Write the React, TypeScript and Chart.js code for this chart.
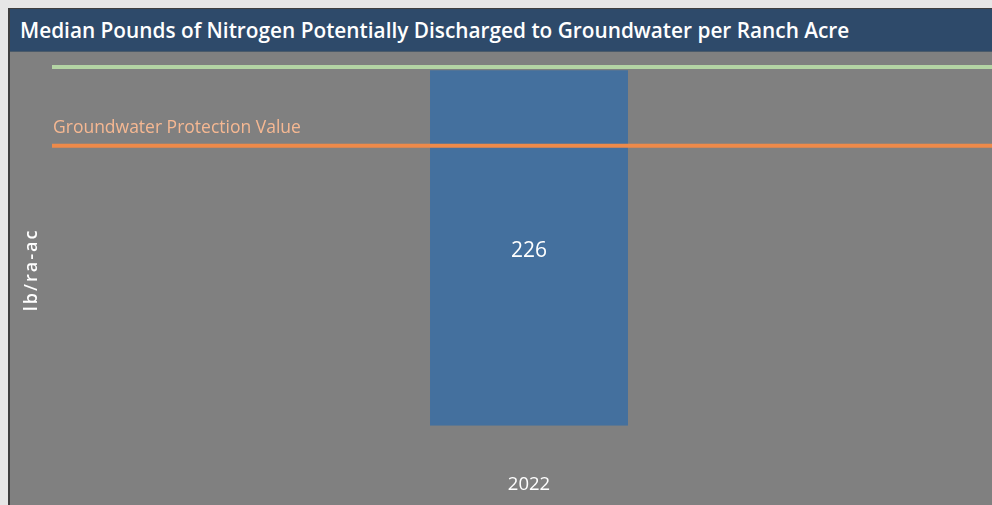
import React, { useEffect, useRef } from "react";
import { Chart, registerables } from "chart.js";

Chart.register(...registerables);

const categories = ["2022"];
const medianValues = [226];
const upperLineValue = 228;
const protectionValue = 178;
const protectionLabel = "Groundwater Protection Value";
const yMax = 235;
const titleText = "Median Pounds of Nitrogen Potentially Discharged to Groundwater per Ranch Acre";
const yTitle = "lb/ra-ac";

const FONT = "'Open Sans', 'DejaVu Sans', sans-serif";

const overlayPlugin = {
  id: "overlay",
  afterDatasetsDraw(chart: any) {
    const { ctx, chartArea, scales } = chart;
    const y = scales.y;
    ctx.save();
    // upper green line
    const gy = y.getPixelForValue(upperLineValue);
    ctx.strokeStyle = "#b4d4a4";
    ctx.lineWidth = 4;
    ctx.beginPath();
    ctx.moveTo(chartArea.left, gy);
    ctx.lineTo(chart.width, gy);
    ctx.stroke();
    // protection line
    const oy = y.getPixelForValue(protectionValue);
    ctx.strokeStyle = "#ee8a4a";
    ctx.lineWidth = 4;
    ctx.beginPath();
    ctx.moveTo(chartArea.left, oy);
    ctx.lineTo(chart.width, oy);
    ctx.stroke();
    ctx.fillStyle = "#f6b892";
    ctx.font = `17.5px ${FONT}`;
    ctx.textAlign = "left";
    ctx.textBaseline = "middle";
    ctx.fillText(protectionLabel, chartArea.left + 1, oy - 18);
    // value labels
    const meta = chart.getDatasetMeta(0);
    ctx.fillStyle = "#ffffff";
    ctx.font = `21px ${FONT}`;
    ctx.textAlign = "center";
    meta.data.forEach((bar: any, i: number) => {
      const mid = (bar.y + bar.base) / 2 + 3;
      ctx.fillText(String(medianValues[i]), bar.x, mid);
    });
    // y title
    ctx.translate(chartArea.left - 20, 218);
    ctx.rotate(-Math.PI / 2);
    ctx.font = `600 18px ${FONT}`;
    (ctx as any).letterSpacing = "2px";
    ctx.fillStyle = "#ffffff";
    ctx.textAlign = "center";
    ctx.fillText(yTitle, 0, 0);
    ctx.restore();
  },
};

export default function App() {
  const ref = useRef<HTMLCanvasElement>(null);
  useEffect(() => {
    if (!ref.current) return;
    const chart = new Chart(ref.current, {
      type: "bar",
      data: {
        labels: categories,
        datasets: [
          {
            data: medianValues,
            backgroundColor: "#44709e",
            borderWidth: 0,
            categoryPercentage: 1,
            barPercentage: 0.2075,
          },
        ],
      },
      options: {
        animation: false,
        responsive: false,
        maintainAspectRatio: false,
        layout: { padding: { left: 42, top: 4, bottom: 17, right: 4 } },
        plugins: {
          legend: { display: false },
          tooltip: { enabled: false },
          title: { display: false },
        },
        scales: {
          x: {
            grid: { display: false, drawTicks: false },
            border: { display: false },
            ticks: { color: "#ffffff", font: { family: FONT, size: 18.5 }, padding: 48 },
          },
          y: {
            min: 0,
            max: yMax,
            display: false,
          },
        },
      },
      plugins: [overlayPlugin],
    });
    return () => chart.destroy();
  }, []);

  return (
    <div style={{ position: "fixed", inset: 0, background: "#e6e6e6", overflow: "hidden" }}>
      <div
        style={{
          position: "absolute",
          left: 8,
          top: 8,
          width: 1010,
          height: 560,
          borderLeft: "2px solid #3e3e3e",
          borderTop: "1px solid #3e3e3e",
          background: "#808080",
        }}
      >
        <div
          style={{
            height: 43,
            background: "#2e4a6a",
            color: "#ffffff",
            fontFamily: FONT,
            fontSize: 20.8,
            fontWeight: 600,
            lineHeight: "43px",
            paddingLeft: 10,
            whiteSpace: "nowrap",
            borderBottom: "1px solid #4a5a6a",
            boxSizing: "border-box",
          }}
        >
          {titleText}
        </div>
        <canvas
          ref={ref}
          width={1000}
          height={509}
          style={{ position: "absolute", left: 0, top: 43, width: 1000, height: 509 }}
        />
      </div>
    </div>
  );
}
